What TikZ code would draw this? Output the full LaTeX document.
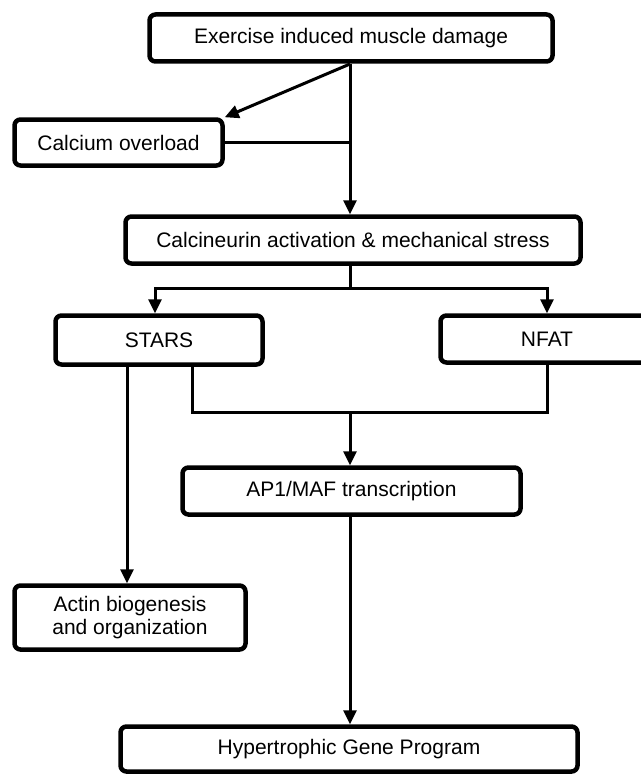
\documentclass[tikz,border=0pt]{standalone}
\usepackage{fontspec}
\setmainfont{Liberation Sans}
\usetikzlibrary{arrows.meta}
\begin{document}
\begin{tikzpicture}[x=1pt,y=-1pt,
  box/.style={draw=black, line width=4.5pt, rounded corners=6pt, fill=white,
    inner sep=0pt, align=center, font=\fontsize{21}{23.5}\selectfont},
  conn/.style={line width=3pt},
  arr/.style={line width=3pt, -{Triangle[length=14pt,width=13pt]}}]
\useasboundingbox (0,0) rectangle (640,776);
\fill[white] (0,0) rectangle (640,776);
\node[box, minimum width=403pt, minimum height=47pt] (b1) at (351,38) {Exercise induced muscle damage};
\node[box, minimum width=208pt, minimum height=46pt] (ca) at (118.5,142.5) {Calcium overload};
\node[box, minimum width=455pt, minimum height=47pt] (calc) at (353,240) {Calcineurin activation \& mechanical stress};
\node[box, minimum width=207pt, minimum height=49pt] (stars) at (159,340) {STARS};
\node[box, minimum width=213pt, minimum height=47pt] (nfat) at (547,339) {NFAT};
\node[box, minimum width=338pt, minimum height=47pt] (ap1) at (351.5,491) {AP1/MAF transcription};
\node[box, minimum width=231pt, minimum height=64pt] (actin) at (130,617.5) {Actin biogenesis\\and organization};
\node[box, minimum width=457pt, minimum height=45pt] (hyp) at (349,749) {Hypertrophic Gene Program};
% top
\coordinate (top) at (350,64);
\draw[arr] (top) -- (ca.north east);
\draw[arr] (top) -- (top |- calc.north);
\draw[conn] (ca.east) -- (ca.east -| top);
% calcineurin branch
\coordinate (j1) at (350,288);
\draw[conn] (j1 |- calc.south) -- (j1);
\draw[arr] (j1) -| ([xshift=-4pt]stars.north);
\draw[arr] (j1) -| (nfat.north);
% merge
\coordinate (j2) at (350,412);
\draw[conn] ([xshift=33pt]stars.south) |- (j2) -| (nfat.south);
\draw[arr] (j2) -- (j2 |- ap1.north);
% left
\draw[arr] ([xshift=-32pt]stars.south) -- ([xshift=-32pt]stars.south |- actin.north);
% bottom
\draw[arr] (j2 |- ap1.south) -- (j2 |- hyp.north);
\end{tikzpicture}
\end{document}
